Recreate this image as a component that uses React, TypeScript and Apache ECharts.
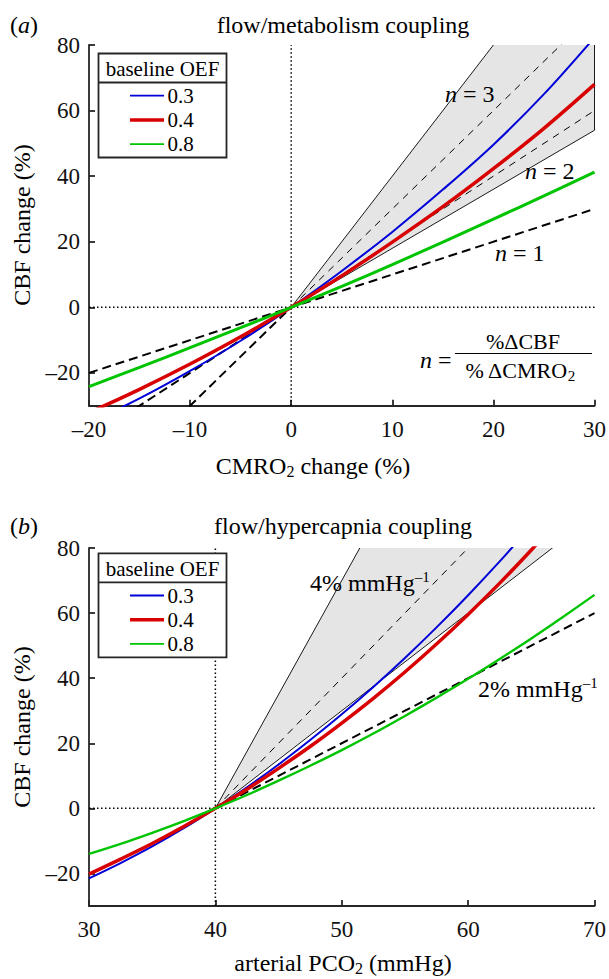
import React, { useEffect, useRef } from 'react';
import * as echarts from 'echarts';

const SERIF = 'Liberation Serif, Times New Roman, serif';

// ---------- Panel (a): flow/metabolism coupling ----------
const cmroChange = [-20, -15, -10, -5, 0, 5, 10, 15, 20, 25, 30];
const cbfOef03A = [-35.3, -27.8, -19.4, -10.2, 0, 11.1, 23.0, 35.9, 49.6, 65.0, 82.3];
const cbfOef04A = [-32.1, -25.0, -17.3, -9.0, 0, 9.6, 19.9, 30.7, 42.3, 54.6, 68.0];
const cbfOef08A = [-24.2, -18.3, -12.3, -6.2, 0, 6.4, 13, 19.9, 26.9, 34, 41.2];
const couplingX = [-20, 0, 30];
const couplingN1 = [-20, 0, 30];
const couplingN2 = [-40, 0, 60];
const couplingN3 = [-60, 0, 90];
const bandXA = [0, 30];
const bandUpperA = [0, 120];
const bandLowerA = [0, 54];
const xRangeA = [-20, 30];

// ---------- Panel (b): flow/hypercapnia coupling ----------
const pco2 = [30, 32.5, 35, 37.5, 40, 42.5, 45, 47.5, 50, 52.5, 55, 57.5, 60, 62.5, 65, 67.5, 70];
const cbfOef03B = [-21.5, -16.8, -11.7, -6.1, 0, 6.5, 13.5, 21.0, 28.9, 37.3, 46.2, 55.6, 65.5, 75.9, 86.8, 98, 110];
const cbfOef04B = [-20.2, -15.6, -10.8, -5.6, 0, 5.9, 12.3, 19.0, 26.2, 33.8, 41.9, 50.5, 59.6, 69.2, 79.4, 90.1, 101];
const cbfOef08B = [-14.0, -10.9, -7.5, -3.9, 0, 4.1, 8.5, 13.1, 17.9, 23.0, 28.4, 34.0, 39.8, 45.9, 52.2, 58.8, 65.6];
const slopeX = [40, 70];
const slope2 = [0, 60];
const slope4 = [0, 120];
const bandXB = [40, 70];
const bandUpperB = [0, 210];
const bandLowerB = [0, 90];
const xRangeB = [30, 70];

const yRange = [-30, 80];
const yTicks = [-20, 0, 20, 40, 60, 80];
const oefLabels = ['0.3', '0.4', '0.8'];
const oefColors = ['#0000d8', '#d80000', '#00c400'];
const axisColor = '#262626';

const pairs = (xs: number[], ys: number[]) => xs.map((x, i) => [x, ys[i]]);

function lineSeries(name: string, data: number[][], idx: number, color: string, width: number, type: any, z: number, smooth: any = false) {
  return {
    type: 'line',
    name,
    xAxisIndex: idx,
    yAxisIndex: idx,
    data,
    symbol: 'none',
    showSymbol: false,
    smooth,
    clip: true,
    silent: true,
    z,
    lineStyle: { color, width, type, cap: 'butt' },
  };
}

function bandSeries(idx: number, bx: number[], bu: number[], bl: number[]) {
  return {
    type: 'custom',
    xAxisIndex: idx,
    yAxisIndex: idx,
    clip: true,
    silent: true,
    z: 1,
    data: [[bx[0], bl[0]]],
    renderItem: (_params: any, api: any) => ({
      type: 'polygon',
      shape: {
        points: [
          api.coord([bx[0], bl[0]]),
          api.coord([bx[1], bl[1]]),
          api.coord([bx[1], bu[1]]),
          api.coord([bx[0], bu[0]]),
        ],
      },
      style: { fill: '#e5e5e5', stroke: '#000', lineWidth: 0.9 },
    }),
  };
}

const fmt = (v: number) => (v < 0 ? '\u2013' + Math.abs(v) : String(v));

function xAxis(idx: number, range: number[]) {
  return {
    type: 'value',
    gridIndex: idx,
    min: range[0],
    max: range[1],
    interval: 10,
    axisLine: { show: true, onZero: false, lineStyle: { color: axisColor, width: 1.8 } },
    axisTick: { show: true, inside: true, length: 6, lineStyle: { color: axisColor, width: 1.8 } },
    axisLabel: { fontFamily: SERIF, fontSize: 23, color: '#111', margin: 12, formatter: fmt },
    splitLine: { show: false },
  };
}

function yAxis(idx: number) {
  return {
    type: 'value',
    gridIndex: idx,
    min: yRange[0],
    max: yRange[1],
    axisLine: { show: true, onZero: false, lineStyle: { color: axisColor, width: 1.8 } },
    axisTick: { show: true, inside: true, length: 6, customValues: yTicks, lineStyle: { color: axisColor, width: 1.8 } },
    axisLabel: { fontFamily: SERIF, fontSize: 23, color: '#111', margin: 9, customValues: yTicks, formatter: fmt },
    splitLine: { show: false },
  };
}

const rich = {
  r: { fontFamily: SERIF, fontSize: 24, color: '#000', lineHeight: 27 },
  i: { fontFamily: SERIF, fontSize: 24, color: '#000', fontStyle: 'italic', lineHeight: 27 },
  s: { fontFamily: SERIF, fontSize: 16, color: '#000', lineHeight: 16, verticalAlign: 'bottom' },
  p: { fontFamily: SERIF, fontSize: 15, color: '#000', lineHeight: 15, verticalAlign: 'top' },
  f: { fontFamily: SERIF, fontSize: 22, color: '#000', lineHeight: 26 },
  fs: { fontFamily: SERIF, fontSize: 15, color: '#000', lineHeight: 15, verticalAlign: 'bottom' },
};

function txt(text: string, x: number, y: number, align = 'left', rotation = 0) {
  return {
    type: 'text',
    x,
    y,
    rotation,
    z: 20,
    silent: true,
    style: { text, x: 0, y: 0, align, verticalAlign: 'middle', rich, fontFamily: SERIF, fontSize: 24, fill: '#000' },
  };
}

function legendBox(top: number) {
  const els: any[] = [
    {
      type: 'rect', z: 15, silent: true,
      shape: { x: 98.5, y: top, width: 128, height: 104 },
      style: { fill: '#fff', stroke: axisColor, lineWidth: 1.8 },
    },
    {
      type: 'line', z: 16, silent: true,
      shape: { x1: 98.5, y1: top + 29, x2: 226.5, y2: top + 29 },
      style: { stroke: axisColor, lineWidth: 1.8 },
    },
    {
      type: 'text', z: 16, silent: true,
      style: { text: 'baseline OEF', x: 162.5, y: top + 15.5, align: 'center', verticalAlign: 'middle', fontFamily: SERIF, fontSize: 21, fill: '#000' },
    },
  ];
  const widths = [1.8, 3.5, 1.8];
  oefLabels.forEach((lab, k) => {
    const yy = top + 42.2 + k * 24.2;
    els.push({
      type: 'line', z: 16, silent: true,
      shape: { x1: 130, y1: yy, x2: 164, y2: yy },
      style: { stroke: oefColors[k], lineWidth: widths[k] },
    });
    els.push({
      type: 'text', z: 16, silent: true,
      style: { text: lab, x: 167.5, y: yy, align: 'left', verticalAlign: 'middle', fontFamily: SERIF, fontSize: 21, fill: '#000' },
    });
  });
  return els;
}

function buildOption() {
  const dotted = [1.5, 2.5];
  const thin = [7, 6];
  const thick = [9, 5];
  const sm = 0.35;
  const series: any[] = [
    // panel a
    bandSeries(0, bandXA, bandUpperA, bandLowerA),
    lineSeries('n=2 (+)', pairs(couplingX.slice(1), couplingN2.slice(1)), 0, '#000', 1, thin, 2),
    lineSeries('n=3 (+)', pairs(couplingX.slice(1), couplingN3.slice(1)), 0, '#000', 1, thin, 2),
    lineSeries('n=1', pairs(couplingX, couplingN1), 0, '#000', 2, thick, 2),
    lineSeries('n=2 (-)', pairs(couplingX.slice(0, 2), couplingN2.slice(0, 2)), 0, '#000', 2, thick, 2),
    lineSeries('n=3 (-)', pairs(couplingX.slice(0, 2), couplingN3.slice(0, 2)), 0, '#000', 2, thick, 2),
    lineSeries('x0a', [[0, yRange[0]], [0, yRange[1]]], 0, '#000', 1.5, dotted, 3),
    lineSeries('y0a', [[xRangeA[0], 0], [xRangeA[1], 0]], 0, '#000', 1.5, dotted, 3),
    lineSeries(oefLabels[0], pairs(cmroChange, cbfOef03A), 0, oefColors[0], 2, 'solid', 4, sm),
    lineSeries(oefLabels[1], pairs(cmroChange, cbfOef04A), 0, oefColors[1], 3.5, 'solid', 5, sm),
    lineSeries(oefLabels[2], pairs(cmroChange, cbfOef08A), 0, oefColors[2], 3, 'solid', 6, sm),
    // panel b
    bandSeries(1, bandXB, bandUpperB, bandLowerB),
    lineSeries('4%', pairs(slopeX, slope4), 1, '#000', 1, thin, 2),
    lineSeries('2%', pairs(slopeX, slope2), 1, '#000', 2, thick, 2),
    lineSeries('x0b', [[40, yRange[0]], [40, yRange[1]]], 1, '#000', 1.5, dotted, 3),
    lineSeries('y0b', [[xRangeB[0], 0], [xRangeB[1], 0]], 1, '#000', 1.5, dotted, 3),
    lineSeries(oefLabels[0] + ' b', pairs(pco2, cbfOef03B), 1, oefColors[0], 2, 'solid', 4, sm),
    lineSeries(oefLabels[1] + ' b', pairs(pco2, cbfOef04B), 1, oefColors[1], 3.5, 'solid', 5, sm),
    lineSeries(oefLabels[2] + ' b', pairs(pco2, cbfOef08B), 1, oefColors[2], 2.4, 'solid', 6, sm),
  ];

  const graphic: any[] = [
    txt('{r|(}{i|a}{r|)}', 10, 25),
    txt('{r|flow/metabolism coupling}', 343, 25, 'center'),
    txt('{r|CBF change (%)}', 22, 225, 'center', Math.PI / 2),
    txt('{r|CMRO}{s|2}{r| change (%)}', 313, 466, 'center'),
    txt('{i|n}{r| = 3}', 445, 94),
    txt('{i|n}{r| = 2}', 525, 171),
    txt('{i|n}{r| = 1}', 495, 252.5),
    txt('{i|n}{r| =}', 420, 360),
    txt('{f|%\u0394CBF}', 523, 341, 'center'),
    txt('{f|% \u0394CMRO}{fs|2}', 520, 370, 'center'),
    {
      type: 'line', z: 20, silent: true,
      shape: { x1: 455, y1: 353.5, x2: 592, y2: 353.5 },
      style: { stroke: '#000', lineWidth: 1 },
    },
    ...legendBox(53.5),

    txt('{r|(}{i|b}{r|)}', 10, 526),
    txt('{r|flow/hypercapnia coupling}', 343, 526, 'center'),
    txt('{r|CBF change (%)}', 22, 727, 'center', Math.PI / 2),
    txt('{r|arterial PCO}{s|2}{r| (mmHg)}', 343, 963, 'center'),
    txt('{r|4% mmHg}{p|\u20131}', 310, 583),
    txt('{r|2% mmHg}{p|\u20131}', 478, 689),
    ...legendBox(553.3),
  ];

  return {
    animation: false,
    backgroundColor: '#fff',
    grid: [
      { left: 89, top: 45, width: 509, height: 360.7 },
      { left: 89, top: 548, width: 509, height: 358 },
    ],
    xAxis: [xAxis(0, xRangeA), xAxis(1, xRangeB)],
    yAxis: [yAxis(0), yAxis(1)],
    series,
    graphic,
  };
}

export default function App() {
  const ref = useRef<HTMLDivElement>(null);
  useEffect(() => {
    if (!ref.current) return;
    const chart = echarts.init(ref.current, null, { renderer: 'svg' });
    chart.setOption(buildOption() as any);
    return () => chart.dispose();
  }, []);
  return (
    <div
      ref={ref}
      style={{ position: 'fixed', left: 0, top: 0, width: 609, height: 979, background: '#fff' }}
    />
  );
}
